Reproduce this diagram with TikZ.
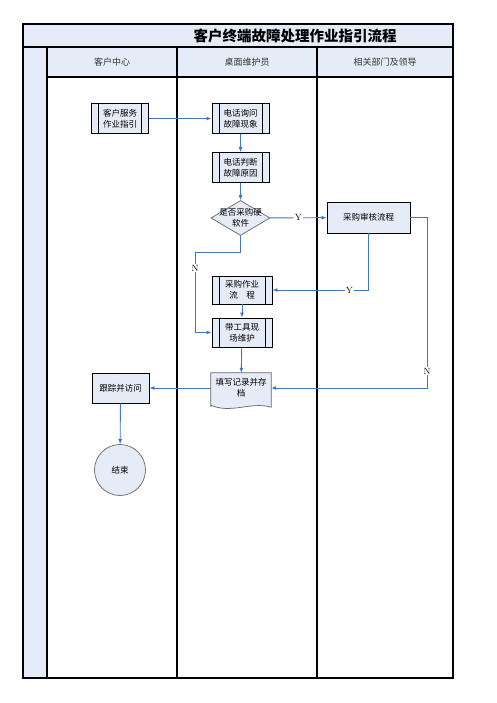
\documentclass[tikz,border=0pt]{standalone}
\usepackage{fontspec}
\newfontfamily\cjk{Noto Sans CJK SC}
\usetikzlibrary{shapes.geometric,arrows.meta}
\definecolor{lanefill}{RGB}{230,236,247}
\definecolor{flowblue}{RGB}{68,114,196}
\tikzset{
  frameline/.style={line width=1.1pt},
  subproc/.style={draw, line width=0.9pt, fill=lanefill, minimum width=57pt, minimum height=30pt,
    align=center, font=\cjk\fontsize{8.5}{11}\selectfont, inner sep=1pt,
    path picture={\draw[line width=0.9pt]
      ([xshift=7pt]path picture bounding box.north west) -- ([xshift=7pt]path picture bounding box.south west)
      ([xshift=-7pt]path picture bounding box.north east) -- ([xshift=-7pt]path picture bounding box.south east);}},
  plainbox/.style={draw, line width=0.9pt, fill=lanefill, minimum width=57pt, minimum height=30pt,
    align=center, font=\cjk\fontsize{8.5}{11}\selectfont},
  choice/.style={diamond, draw=gray!80!black, line width=0.7pt, fill=lanefill, minimum width=59pt, minimum height=35pt, inner sep=0pt},
  docbox/.style={minimum width=60pt, minimum height=30pt, align=center, inner sep=1pt, font=\cjk\fontsize{8.5}{11}\selectfont},
  stopnode/.style={circle, draw=gray!80!black, line width=0.7pt, fill=lanefill, minimum size=51pt, font=\cjk\fontsize{8.5}{11}\selectfont},
  lanehead/.style={font=\cjk\fontsize{9}{11}\selectfont, text=black!80},
  flow/.style={draw=flowblue, line width=0.9pt, -{Latex[length=5pt,width=4pt]}},
  yn/.style={fill=white, inner sep=1pt, font=\fontsize{9}{10}\selectfont}
}
\begin{document}
\begin{tikzpicture}[x=1pt,y=-1pt]
  \useasboundingbox (0,0) rectangle (497,703);
  % swimlane frame
  \fill[lanefill] (23,24) rectangle (453,47);
  \fill[lanefill] (47,47) rectangle (453,77);
  \fill[lanefill] (23,47) rectangle (47,678);
  \draw[frameline] (23,24) rectangle (453,678);
  \draw[frameline] (23,47) -- (453,47);
  \draw[frameline] (47,77) -- (453,77);
  \draw[frameline] (47,47) -- (47,678);
  \draw[frameline] (177,47) -- (177,678);
  \draw[frameline] (317,47) -- (317,678);
  \draw[line width=2pt] (453,24) -- (453,678);
  \node[font=\cjk\bfseries\fontsize{14.5}{16}\selectfont] (title) at (295,35.5) {客户终端故障处理作业指引流程};
  \node[lanehead] (lane1) at (112,62) {客户中心};
  \node[lanehead] (lane2) at (247,62) {桌面维护员};
  \node[lanehead] (lane3) at (385,62) {相关部门及领导};
  % steps
  \node[subproc] (guide) at (120,118.5) {客户服务\\作业指引};
  \node[subproc] (ask) at (240.5,118.5) {电话询问\\故障现象};
  \node[subproc] (judge) at (240.5,167.5) {电话判断\\故障原因};
  \node[choice, label={[align=center, font=\cjk\fontsize{8.5}{11}\selectfont]center:是否采购硬\\软件}] (buy) at (240.5,218) {};
  \node[plainbox, minimum width=83pt, minimum height=31pt] (audit) at (368.5,217.5) {采购审核流程};
  \node[subproc, minimum width=60pt, minimum height=28pt] (proc) at (242,290) {采购作业\\流\quad 程};
  \node[subproc, minimum width=60pt, minimum height=29pt] (site) at (242,332.5) {带工具现\\场维护};
  \node[docbox] (record) at (241,388) {填写记录并存\\档};
  \node[plainbox] (track) at (120.5,388) {跟踪并访问};
  \node[stopnode] (end) at (120,470) {结束};
  \draw[draw=gray!80!black, line width=0.7pt, fill=lanefill] ([yshift=-4pt]record.south west) -- (record.north west) -- (record.north east) -- ([yshift=-4pt]record.south east)
    .. controls +(-20,-6) and +(20,9) .. ([yshift=-2pt]record.south west);
  \node[docbox] at (record) {填写记录并存\\档};
  \coordinate (nturn) at (195,252);
  \coordinate (rturn) at (427,217.5);
  % connectors
  \draw[flow] (guide) -- (ask);
  \draw[flow] (ask) -- (judge);
  \draw[flow] (judge) -- (buy);
  \draw[flow] (buy) -- node[yn]{Y} (audit);
  \draw[flow] (buy.south) |- (nturn) |- node[pos=0.1, yn]{N} (site.west);
  \draw[flow] (audit.south) |- node[pos=0.6, yn]{Y} (proc.east);
  \draw[flow] (proc) -- (site);
  \draw[flow] (site) -- (record);
  \draw[flow] (audit.east) -- (rturn) |- node[pos=0.45, yn]{N} (record.east);
  \draw[flow] (record.west) -- (track.east);
  \draw[flow] (track) -- (end);
\end{tikzpicture}
\end{document}
